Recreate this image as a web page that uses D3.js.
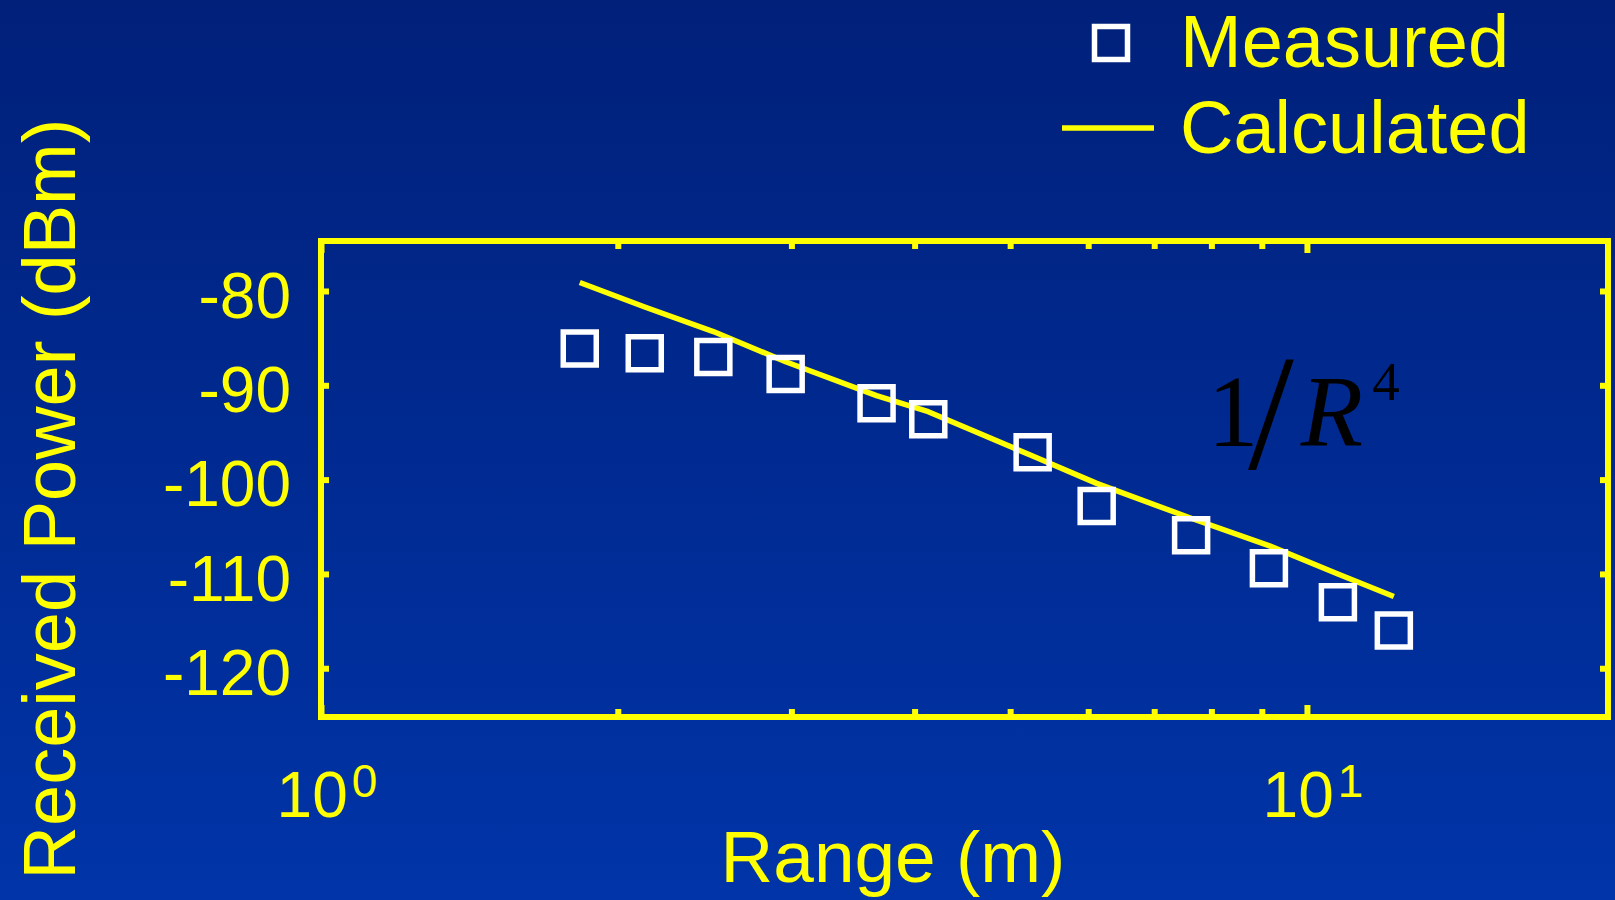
<!DOCTYPE html>
<html>
<head>
<meta charset="utf-8">
<script src="https://cdn.jsdelivr.net/npm/d3@7/dist/d3.min.js"></script>
<style>
  html, body { margin: 0; padding: 0; background: #00287f; }
  svg { display: block; }
  text { font-family: "Liberation Sans", Arial, sans-serif; }
</style>
</head>
<body>
<svg id="chart" width="1615" height="900"></svg>
<script>
// Range from the transmitter (m) at each measurement location
const ranges = [1.83, 2.13, 2.50, 2.96, 3.66, 4.13, 5.27, 6.12, 7.63, 9.15, 10.75, 12.25];
// Received power (dBm), measured
const measured = [-86.1, -86.6, -87.0, -88.8, -91.9, -93.6, -97.1, -102.8, -105.9, -109.4, -113.0, -116.0];
// Received power (dBm), calculated
const calculated = [-79.1, -81.7, -84.3, -87.5, -91.1, -92.8, -97.5, -100.4, -104.1, -107.0, -110.0, -112.4];

const yTicks = [-80, -90, -100, -110, -120];
const xDecades = [1, 10];
const xMinor = [2, 3, 4, 5, 6, 7, 8, 9];
const xDecadeLabels = [{ base: "10", exp: "0" }, { base: "10", exp: "1" }];

const W = 1615, H = 900;
const YELLOW = "#ffff00";
const svg = d3.select("#chart");

// Background gradient
const defs = svg.append("defs");
const grad = defs.append("linearGradient").attr("id", "bg")
  .attr("x1", 0).attr("y1", 0).attr("x2", 0).attr("y2", 1);
grad.append("stop").attr("offset", "0%").attr("stop-color", "#00207a");
grad.append("stop").attr("offset", "100%").attr("stop-color", "#0034a8");
svg.append("rect").attr("width", W).attr("height", H).attr("fill", "url(#bg)");

const plot = { left: 321, right: 1608, top: 241, bottom: 717 };
const x = d3.scaleLog().domain([1, 20.2]).range([plot.left, plot.right]);
const y = d3.scaleLinear().domain([-125.17, -74.70]).range([plot.bottom, plot.top]);

// Inward ticks on all four sides
function styleTicks(g) {
  g.select(".domain").remove();
  g.selectAll(".tick line").attr("stroke", YELLOW).attr("stroke-width", 6);
  g.selectAll(".tick text").remove();
}
const minorLen = 8, majorLen = 12;
svg.append("g").attr("transform", `translate(0,${plot.bottom})`)
  .call(d3.axisBottom(x).tickValues(xMinor).tickSize(-minorLen).tickFormat(""))
  .call(styleTicks);
svg.append("g").attr("transform", `translate(0,${plot.bottom})`)
  .call(d3.axisBottom(x).tickValues(xDecades).tickSize(-majorLen).tickFormat(""))
  .call(styleTicks);
svg.append("g").attr("transform", `translate(0,${plot.top})`)
  .call(d3.axisTop(x).tickValues(xMinor).tickSize(-minorLen).tickFormat(""))
  .call(styleTicks);
svg.append("g").attr("transform", `translate(0,${plot.top})`)
  .call(d3.axisTop(x).tickValues(xDecades).tickSize(-majorLen).tickFormat(""))
  .call(styleTicks);
svg.append("g").attr("transform", `translate(${plot.right},0)`)
  .call(d3.axisRight(y).tickValues(yTicks).tickSize(-minorLen).tickFormat(""))
  .call(styleTicks);

// Left axis with its tick labels
const yAxis = svg.append("g").attr("transform", `translate(${plot.left},0)`)
  .call(d3.axisLeft(y).tickValues(yTicks).tickSize(-minorLen).tickPadding(30).tickFormat(d3.format("d")));
yAxis.select(".domain").remove();
yAxis.selectAll(".tick line").attr("stroke", YELLOW).attr("stroke-width", 6);
yAxis.selectAll(".tick text")
  .attr("fill", YELLOW)
  .style("font-family", '"Liberation Sans", Arial, sans-serif')
  .style("font-size", "64px")
  .attr("dy", "0.41em")
  .text(d => String(d));

// Decade labels with superscript exponents
const xl = svg.append("g").selectAll("text").data(xDecades).join("text")
  .attr("x", d => x(d) + 6)
  .attr("y", 817)
  .attr("text-anchor", "middle")
  .attr("fill", YELLOW)
  .style("font-size", "64px");
xl.append("tspan").text((d, i) => xDecadeLabels[i].base);
xl.append("tspan").attr("dx", 4).attr("dy", -20).style("font-size", "46px")
  .text((d, i) => xDecadeLabels[i].exp);

// Plot frame
svg.append("rect")
  .attr("x", plot.left).attr("y", plot.top)
  .attr("width", plot.right - plot.left).attr("height", plot.bottom - plot.top)
  .attr("fill", "none").attr("stroke", YELLOW).attr("stroke-width", 6);

// Calculated curve
const pts = ranges.map((r, i) => ({ r, m: measured[i], c: calculated[i] }));
svg.append("path").datum(pts)
  .attr("fill", "none").attr("stroke", YELLOW).attr("stroke-width", 5.5)
  .attr("stroke-linejoin", "round")
  .attr("d", d3.line().x(d => x(d.r)).y(d => y(d.c)));

// Measured points
const sq = d3.symbol().type(d3.symbolSquare).size(33 * 33);
svg.append("g").selectAll("path").data(pts).join("path")
  .attr("transform", d => `translate(${x(d.r)},${y(d.m)})`)
  .attr("d", sq)
  .attr("fill", "none").attr("stroke", "#ffffff").attr("stroke-width", 5.5);

// 1/R^4 annotation, one text run in a serif face
const ann = svg.append("text")
  .attr("fill", "#000")
  .style("font-family", '"Liberation Serif", "Times New Roman", serif');
ann.append("tspan").attr("x", 1233).attr("y", 446).attr("text-anchor", "middle")
  .style("font-size", "102px").text("1");
ann.append("tspan").attr("x", 1271).attr("y", 468).attr("text-anchor", "middle")
  .style("font-size", "165px").text("/");
ann.append("tspan").attr("x", 1332).attr("y", 446).attr("text-anchor", "middle")
  .style("font-size", "102px").style("font-style", "italic").text("R");
ann.append("tspan").attr("x", 1386).attr("y", 400).attr("text-anchor", "middle")
  .style("font-size", "55px").text("4");

// Axis titles
svg.append("text").attr("x", 893).attr("y", 882).attr("text-anchor", "middle")
  .attr("fill", YELLOW).style("font-size", "73px").text("Range (m)");
svg.append("text").attr("transform", "translate(75,499) rotate(-90)")
  .attr("text-anchor", "middle").attr("fill", YELLOW)
  .style("font-size", "74px").text("Received Power (dBm)");

// Legend
const lg = svg.append("g");
lg.append("path").attr("transform", "translate(1111,43)").attr("d", sq)
  .attr("fill", "none").attr("stroke", "#ffffff").attr("stroke-width", 5.5);
lg.append("line").attr("x1", 1062).attr("x2", 1154).attr("y1", 128).attr("y2", 128)
  .attr("stroke", YELLOW).attr("stroke-width", 5.5);
lg.append("text").attr("x", 1180).attr("y", 67).attr("fill", YELLOW)
  .style("font-size", "74px").text("Measured");
lg.append("text").attr("x", 1180).attr("y", 153).attr("fill", YELLOW)
  .style("font-size", "74px").text("Calculated");
</script>
</body>
</html>
